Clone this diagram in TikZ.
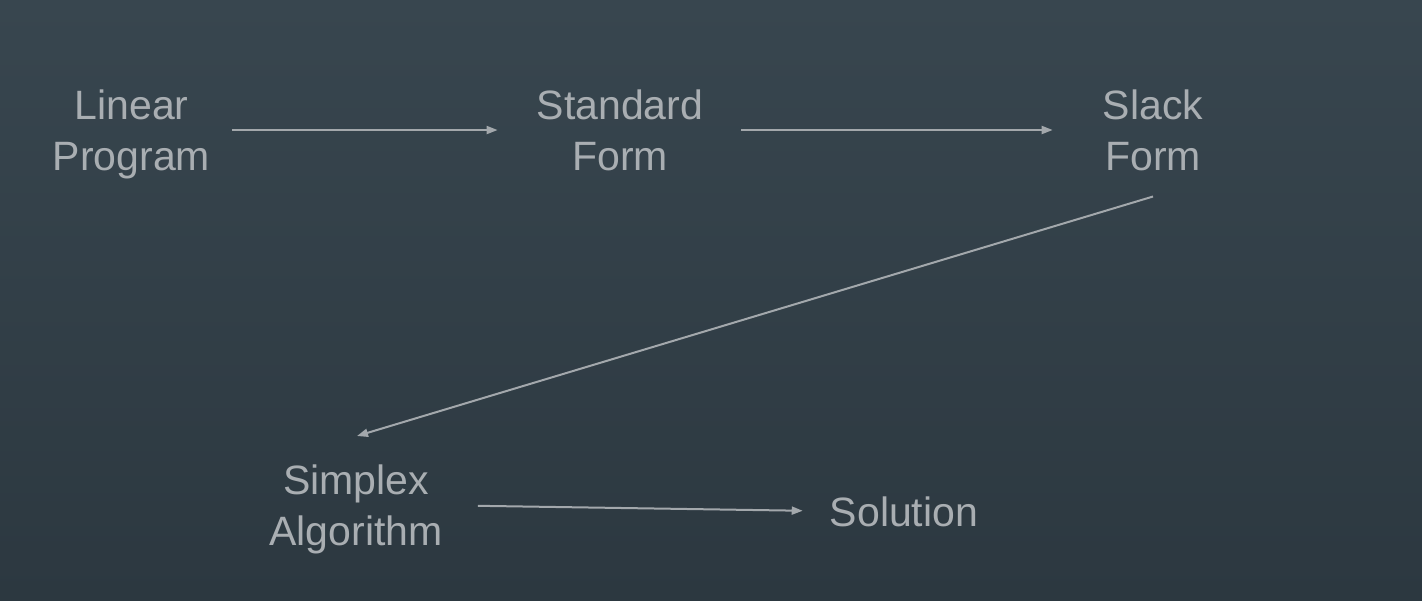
\documentclass[tikz,border=0pt]{standalone}
\usepackage{fontspec}
\setmainfont{Liberation Sans}
\usetikzlibrary{arrows.meta}
\definecolor{txtc}{HTML}{A9AEB2}
\definecolor{linec}{HTML}{A3A8AC}
\definecolor{bgtop}{HTML}{38464F}
\definecolor{bgbot}{HTML}{2C3840}
\begin{document}
\begin{tikzpicture}[x=1pt,y=-1pt,
  lbl/.style={text=txtc, inner sep=0pt, align=center, anchor=north,
    font=\fontsize{41}{51}\selectfont},
  arr/.style={draw=linec, line width=2pt,
    -{Triangle[length=11pt,width=8pt]}}]
\shade[top color=bgtop, bottom color=bgbot] (0,0) rectangle (1422,600);
\useasboundingbox (0,0) rectangle (1422,600);
\node[lbl] (lp) at (131.5,90) {Linear\\Program};
\node[lbl] (sf) at (620,90) {Standard\\Form};
\node[lbl] (sl) at (1153,90) {Slack\\Form};
\node[lbl] (sa) at (356,465) {Simplex\\Algorithm};
\node[lbl] (so) at (904,497) {Solution};
\draw[arr] ([xshift=22pt,yshift=-40pt]lp.north east) -- ([xshift=-39pt,yshift=-40pt]sf.north west);
\draw[arr] ([xshift=38pt,yshift=-40pt]sf.north east) -- ([xshift=-50pt,yshift=-40pt]sl.north west);
\draw[arr] ([yshift=-25pt]sl.south) -- ([xshift=1pt,yshift=29pt]sa.north);
\draw[arr] ([xshift=35pt,yshift=4pt]sa.east) -- ([xshift=-27pt,yshift=1.5pt]so.west);
\end{tikzpicture}
\end{document}
